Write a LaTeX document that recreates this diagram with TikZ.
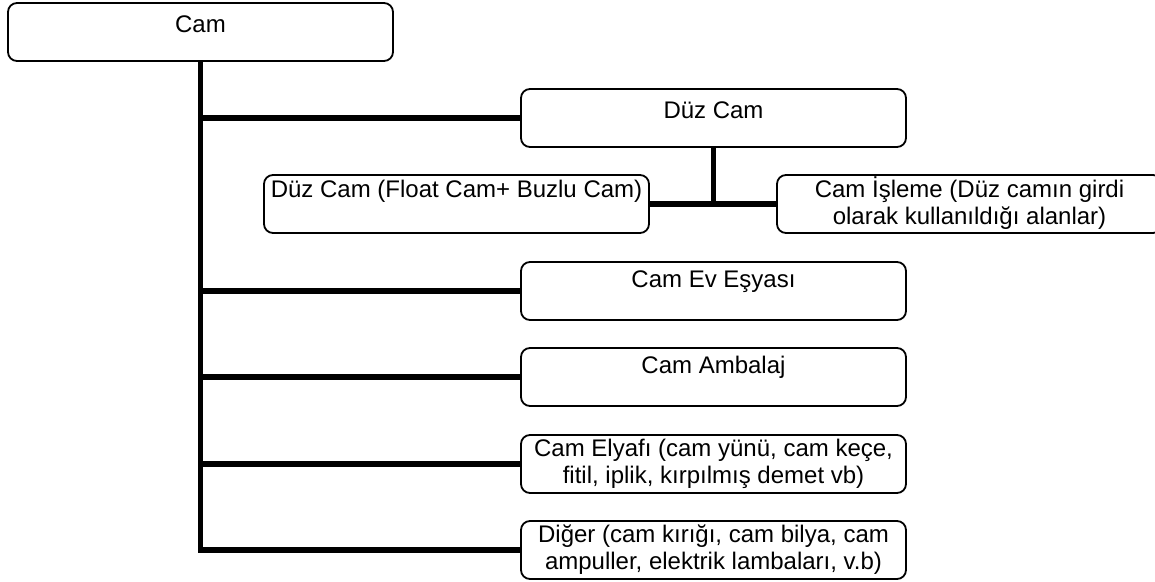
\documentclass[tikz,border=0pt]{standalone}
\usepackage{fontspec}
\setmainfont{Liberation Sans}
\begin{document}
\begin{tikzpicture}[x=1pt,y=-1pt,
  box/.style={draw, line width=1.8pt, rounded corners=9pt,
    minimum width=385pt, minimum height=58pt, inner sep=0pt, outer sep=0pt},
  txt/.style={anchor=base, inner sep=0pt, align=center,
    font=\fontsize{24}{26.5}\selectfont},
  conn/.style={line width=5.5pt, line join=miter}]
  \path[use as bounding box, clip] (0,0) rectangle (1155,581);

  % boxes
  \node[box] (cam)    at (200.5,32)  {};
  \node[box] (duz)    at (713.5,118) {};
  \node[box] (float)  at (456.5,204) {};
  \node[box] (isleme) at (969.5,204) {};
  \node[box] (ev)     at (713.5,291) {};
  \node[box] (amb)    at (713.5,377) {};
  \node[box] (ely)    at (713.5,464) {};
  \node[box] (dig)    at (713.5,550) {};

  % labels, set near the top of each box (base = baseline of the last line)
  \node[txt] (camT)    at ([yshift=-29pt]cam.north)    {Cam};
  \node[txt] (duzT)    at ([yshift=-29pt]duz.north)    {Düz Cam};
  \node[txt] (floatT)  at ([yshift=-22pt]float.north)  {Düz Cam (Float Cam+ Buzlu Cam)};
  \node[txt] (islemeT) at ([yshift=-49pt]isleme.north) {Cam İşleme (Düz camın girdi\\olarak kullanıldığı alanlar)};
  \node[txt] (evT)     at ([yshift=-25pt]ev.north)     {Cam Ev Eşyası};
  \node[txt] (ambT)    at ([yshift=-25pt]amb.north)    {Cam Ambalaj};
  \node[txt] (elyT)    at ([yshift=-48pt]ely.north)    {Cam Elyafı (cam yünü, cam keçe,\\fitil, iplik, kırpılmış demet vb)};
  \node[txt] (digT)    at ([yshift=-48pt]dig.north)    {Diğer (cam kırığı, cam bilya, cam\\ampuller, elektrik lambaları, v.b)};

  % main trunk and its branches
  \draw[conn] (cam.south) |- (dig.west);
  \draw[conn] (cam.south |- duz.west) -- (duz.west);
  \draw[conn] (cam.south |- ev.west)  -- (ev.west);
  \draw[conn] (cam.south |- amb.west) -- (amb.west);
  \draw[conn] (cam.south |- ely.west) -- (ely.west);

  % flat glass sub-branch
  \draw[conn] (duz.south) -- (duz.south |- float.east);
  \draw[conn] (float.east) -- (isleme.west);
\end{tikzpicture}
\end{document}
